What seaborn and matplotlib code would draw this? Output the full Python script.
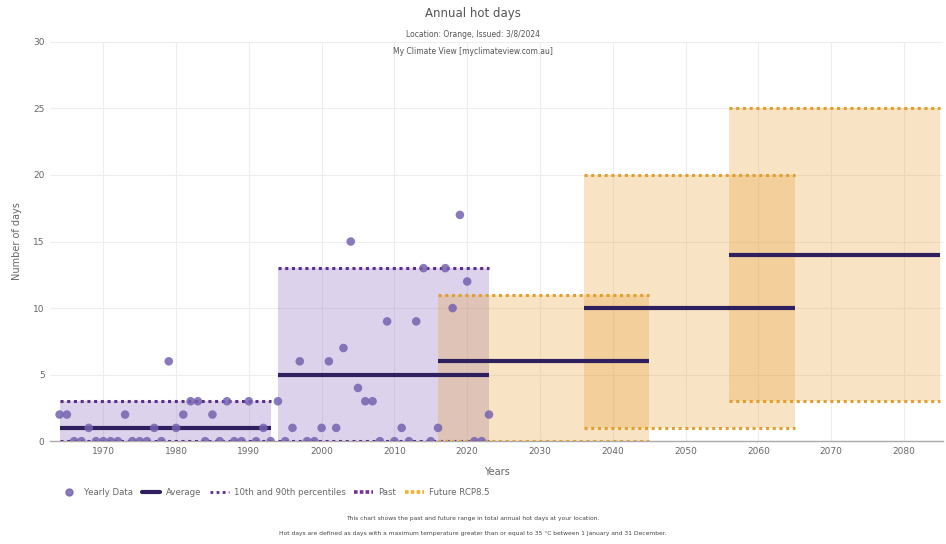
import matplotlib
matplotlib.use("Agg")
import matplotlib.pyplot as plt
from matplotlib.lines import Line2D
import numpy as np
import pandas as pd
import seaborn as sns

# Yearly observed hot days (>= 35 °C)
years = list(range(1964, 2024))
hot_days = [2, 2, 0, 0, 1, 0, 0, 0, 0, 2,   # 1964-1973
            0, 0, 0, 1, 0, 6, 1, 2, 3, 3,   # 1974-1983
            0, 2, 0, 3, 0, 0, 3, 0, 1, 0,   # 1984-1993
            3, 0, 1, 6, 0, 0, 1, 6, 1, 7,   # 1994-2003
            15, 4, 3, 3, 0, 9, 0, 1, 0, 9,  # 2004-2013
            13, 0, 1, 13, 10, 17, 12, 0, 0, 2]  # 2014-2023

# 30-year windows: past observations and future RCP8.5 projections
past_start = [1964, 1994]
past_end = [1993, 2023]
past_p10 = [0, 0]
past_p90 = [3, 13]
past_avg = [1, 5]

future_start = [2016, 2036, 2056]
future_end = [2045, 2065, 2085]
future_p10 = [0, 1, 3]
future_p90 = [11, 20, 25]
future_avg = [6, 10, 14]

y_ticks = [0, 5, 10, 15, 20, 25, 30]
x_ticks = [1970, 1980, 1990, 2000, 2010, 2020, 2030, 2040, 2050, 2060, 2070, 2080]

sns.set_theme(style="whitegrid")
plt.rcParams["font.family"] = ["DejaVu Sans"]

PURPLE_FILL = "#8e6bbf"
ORANGE_FILL = "#e8a33d"
PURPLE_DOT = "#5b2d8c"
ORANGE_DOT = "#e0a030"
AVG = "#2e1f5e"
POINT = "#7663b0"
TXT = "#666666"

fig = plt.figure(figsize=(9.46, 5.44), dpi=100)
ax = fig.add_axes([0.053, 0.189, 0.944, 0.734])

dots = (0, (1, 1.2))

def window(ax, x0, x1, lo, hi, avg, fill, dot):
    ax.fill_between([x0, x1], [lo, lo], [hi, hi], color=fill, alpha=0.3,
                    linewidth=0, zorder=1)
    for v in (lo, hi):
        ax.plot([x0, x1], [v, v], color=dot, lw=2.2, linestyle=dots, zorder=3)
    ax.plot([x0, x1], [avg, avg], color=AVG, lw=3, solid_capstyle="butt", zorder=4)

for s, e, lo, hi, a in zip(past_start, past_end, past_p10, past_p90, past_avg):
    window(ax, s, e, lo, hi, a, PURPLE_FILL, PURPLE_DOT)
for s, e, lo, hi, a in zip(future_start, future_end, future_p10, future_p90, future_avg):
    window(ax, s, e, lo, hi, a, ORANGE_FILL, ORANGE_DOT)

df = pd.DataFrame({"Year": years, "Hot days": hot_days})
sns.scatterplot(data=df, x="Year", y="Hot days", ax=ax, color=POINT, s=38,
                alpha=0.85, edgecolor="none", zorder=5, legend=False)

ax.set_xlim(1962.7, 2085.4)
ax.set_ylim(0, 30)
ax.set_xticks(x_ticks)
ax.set_yticks(y_ticks)
ax.tick_params(axis="both", labelsize=6.5, colors=TXT, length=0, pad=4)
ax.grid(True, color="#eeeeee", linewidth=0.8)
for side in ("top", "right", "left"):
    ax.spines[side].set_visible(False)
ax.spines["bottom"].set_color("#aaaaaa")
ax.spines["bottom"].set_linewidth(1.0)
ax.set_xlabel("Years", fontsize=7, color=TXT, labelpad=8)
ax.set_ylabel("Number of days", fontsize=7, color=TXT, labelpad=8)

fig.text(0.5, 0.975, "Annual hot days", ha="center", va="center", fontsize=8.5, color="#555555")
fig.text(0.5, 0.937, "Location: Orange, Issued: 3/8/2024", ha="center", va="center",
         fontsize=5.5, color="#555555")
fig.text(0.5, 0.906, "My Climate View [myclimateview.com.au]", ha="center", va="center",
         fontsize=5.5, color="#555555")

handles = [
    Line2D([], [], marker="o", linestyle="none", color=POINT, markersize=5, alpha=0.85),
    Line2D([], [], color=AVG, lw=3),
    Line2D([], [], color=PURPLE_DOT, lw=2, linestyle=dots),
    Line2D([], [], color="#7030a0", lw=2.6, linestyle=(0, (1, 0.6))),
    Line2D([], [], color="#f0b030", lw=2.6, linestyle=(0, (1, 0.6))),
]
labels = ["Yearly Data", "Average", "10th and 90th percentiles", "Past", "Future RCP8.5"]
leg = fig.legend(handles, labels, loc="center left", bbox_to_anchor=(0.055, 0.095),
                 ncol=5, frameon=False, fontsize=6.2, handlelength=2.2,
                 columnspacing=1.0, handletextpad=0.6, labelcolor=TXT)

fig.text(0.5, 0.047, "This chart shows the past and future range in total annual hot days at your location.",
         ha="center", va="center", fontsize=4.3, color="#444444")
fig.text(0.5, 0.02, "Hot days are defined as days with a maximum temperature greater than or equal to 35 °C between 1 January and 31 December.",
         ha="center", va="center", fontsize=4.3, color="#444444")

fig.savefig("out.png", dpi=100)
